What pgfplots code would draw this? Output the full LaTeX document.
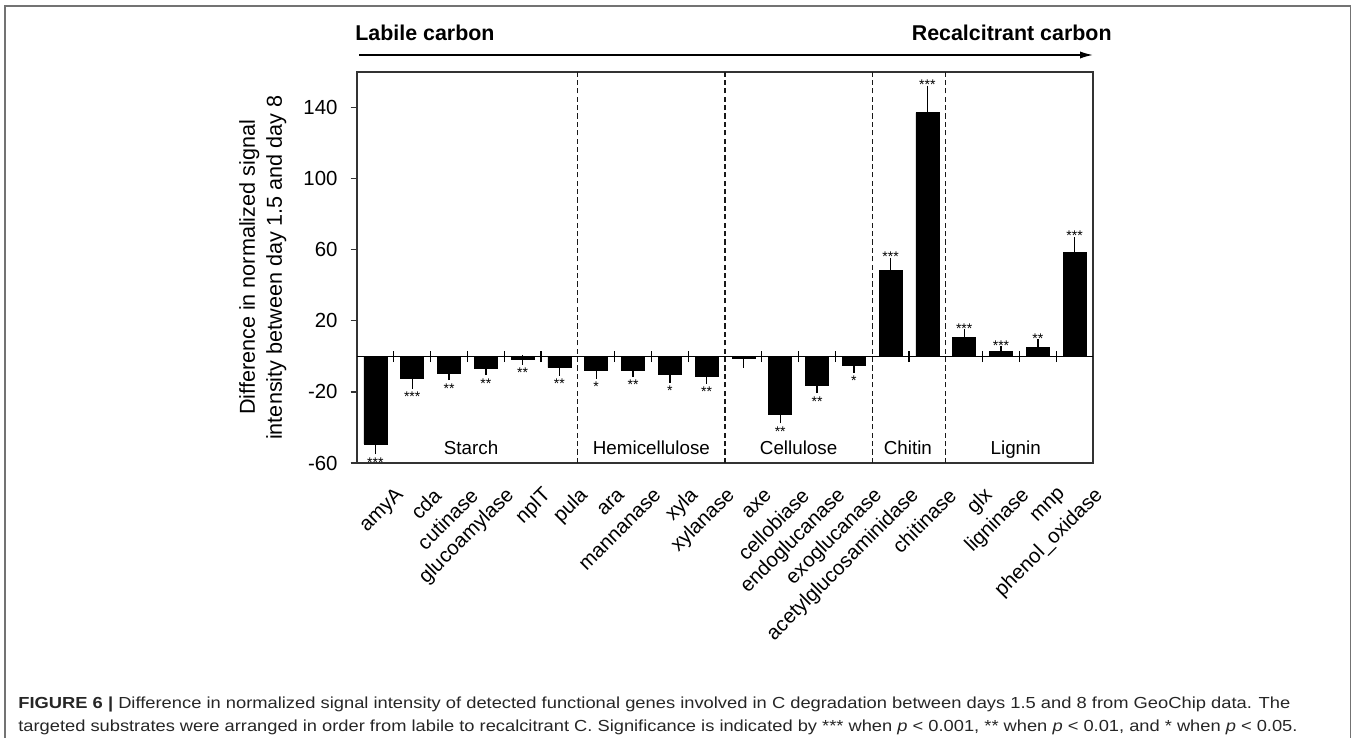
\documentclass[border=0pt]{standalone}
\usepackage{fontspec}
\setmainfont{Liberation Sans}
\usepackage{graphicx}
\usepackage{pgfplots}
\pgfplotsset{compat=1.18}
\usepackage{pgfplotstable}
\usetikzlibrary{arrows.meta}

\pgfplotstableread{
x y e s
0 -49.3 3.2 ***
1 -12.3 3.2 ***
2 -9.5 1.3 **
3 -6.9 1.0 **
4 -1.5 0.5 **
5 -6.4 1.8 **
6 -7.7 2.4 *
7 -7.7 1.1 **
8 -9.9 2.4 *
9 -11.4 1.3 **
11 -32.5 2.6 **
12 -16.1 2.0 **
13 -4.9 1.8 *
}\negdata
\pgfplotstableread{
x y e
10 -1.3 2.6
}\axedata
\pgfplotstableread{
x y e s
14 48.2 4.7 ***
15 137.2 12.5 ***
16 10.7 2.0 ***
17 2.6 0.6 ***
18 5.2 1.9 **
19 58.5 6.2 ***
}\posdata

\begin{document}
\begin{tikzpicture}
\path[use as bounding box] (0,0) rectangle (677.5pt,369pt);
% outer frame
\draw[black!55, line width=0.8pt] (2.5pt,-10pt) -- (2.5pt,366pt) -- (675.2pt,366pt) -- (675.2pt,-10pt);

% top arrow and labels
\draw[line width=0.75pt, -{Latex[length=6.5pt,width=3.6pt]}] (179.5pt,341.5pt) -- (546.5pt,341.5pt);
\node[anchor=base west, inner sep=0pt, font=\fontsize{10.7}{12}\selectfont\bfseries] at (177.5pt,348.5pt) {Labile carbon};
\node[anchor=base east, inner sep=0pt, font=\fontsize{10.7}{12}\selectfont\bfseries] at (556pt,348.5pt) {Recalcitrant carbon};

\begin{axis}[
  at={(178.5pt,137.5pt)}, anchor=south west,
  scale only axis, width=368pt, height=195.5pt,
  xmin=-0.5, xmax=19.5, ymin=-60, ymax=160,
  ytick={-60,-20,20,60,100,140},
  xtick={0,...,19},
  xticklabels={amyA,cda,cutinase,glucoamylase,nplT,pula,ara,mannanase,xyla,xylanase,axe,cellobiase,endoglucanase,exoglucanase,acetylglucosaminidase,chitinase,glx,ligninase,mnp,phenol\_oxidase},
  x tick style={draw=none},
  ytick pos=left, tick align=outside, major tick length=3.2pt,
  y tick style={black!80, line width=0.6pt},
  axis line style={black!80, line width=0.7pt},
  tick label style={font=\fontsize{10.2}{12}\selectfont},
  yticklabel style={xshift=-3pt},
  xticklabel style={rotate=45, anchor=east, inner sep=0pt, yshift=-17pt, xshift=1pt},
  /pgf/number format/assume math mode=true,
  ylabel={Difference in normalized signal\\intensity between day 1.5 and day 8},
  ylabel style={align=center, font=\fontsize{10.8}{13.5}\selectfont, at={(axis description cs:-0.128,0.5)}, anchor=center},
  bar width=11.5pt,
  clip=false,
  error bars/error bar style={line width=0.7pt, black},
  error bars/error mark options={line width=0.7pt, mark size=2.3pt, black},
]
% separators
\foreach \xx in {5.5,9.5,13.5,15.5} {
  \edef\temp{\noexpand\draw[black!90, line width=0.65pt, dash pattern=on 2.6pt off 1.6pt] (axis cs:\xx,-60) -- (axis cs:\xx,160);}
  \temp
}
\draw[black, line width=0.8pt] (axis cs:-0.5,0) -- (axis cs:19.5,0);
\foreach \xx in {0.5,1.5,2.5,3.5,4.5,6.5,7.5,8.5,10.5,11.5,12.5,14.5,16.5,17.5,18.5} {
  \edef\temp{\noexpand\draw[black, line width=0.6pt] (axis cs:\xx,-3.2) -- (axis cs:\xx,3.2);}
  \temp
}
% bars
\addplot[ybar, bar shift=0pt, fill=black, draw=black,
  error bars/.cd, y dir=minus, y explicit]
  table[x=x, y=y, y error=e] {\negdata};
\addplot[ybar, bar shift=0pt, fill=black, draw=black,
  error bars/.cd, y dir=minus, y explicit]
  table[x=x, y=y, y error=e] {\axedata};
\addplot[ybar, bar shift=0pt, fill=black, draw=black,
  error bars/.cd, y dir=plus, y explicit]
  table[x=x, y=y, y error=e] {\posdata};
% significance stars
\addplot[draw=none, mark=none, nodes near coords, point meta=explicit symbolic,
  every node near coord/.append style={anchor=north, inner sep=0pt, yshift=-3.8pt, font=\fontsize{7}{7}\selectfont}]
  table[x=x, y expr=\thisrow{y}-\thisrow{e}, meta=s] {\negdata};
\addplot[draw=none, mark=none, nodes near coords, point meta=explicit symbolic,
  every node near coord/.append style={anchor=south, inner sep=0pt, yshift=0pt, font=\fontsize{7}{7}\selectfont}]
  table[x=x, y expr=\thisrow{y}+\thisrow{e}, meta=s] {\posdata};
% group labels
\node[anchor=base, font=\fontsize{9.4}{11}\selectfont] at (axis cs:2.6,-55.5) {Starch};
\node[anchor=base, font=\fontsize{9.4}{11}\selectfont] at (axis cs:7.5,-55.5) {Hemicellulose};
\node[anchor=base, font=\fontsize{9.4}{11}\selectfont] at (axis cs:11.5,-55.5) {Cellulose};
\node[anchor=base, font=\fontsize{9.4}{11}\selectfont] at (axis cs:14.47,-55.5) {Chitin};
\node[anchor=base, font=\fontsize{9.4}{11}\selectfont] at (axis cs:17.4,-55.5) {Lignin};
\end{axis}

% caption
\node[anchor=base west, inner sep=0pt, font=\fontsize{9}{10}\selectfont, text=black!85] at (9pt,14.5pt)
  {\resizebox{636pt}{5.8pt}{\textbf{FIGURE 6 |} Difference in normalized signal intensity of detected functional genes involved in C degradation between days 1.5 and 8 from GeoChip data. The}};
\node[anchor=base west, inner sep=0pt, font=\fontsize{9}{10}\selectfont, text=black!85] at (9pt,3pt)
  {\resizebox{639.5pt}{5.8pt}{targeted substrates were arranged in order from labile to recalcitrant C. Significance is indicated by *** when \textit{p} < 0.001, ** when \textit{p} < 0.01, and * when \textit{p} < 0.05.}};
\end{tikzpicture}
\end{document}
